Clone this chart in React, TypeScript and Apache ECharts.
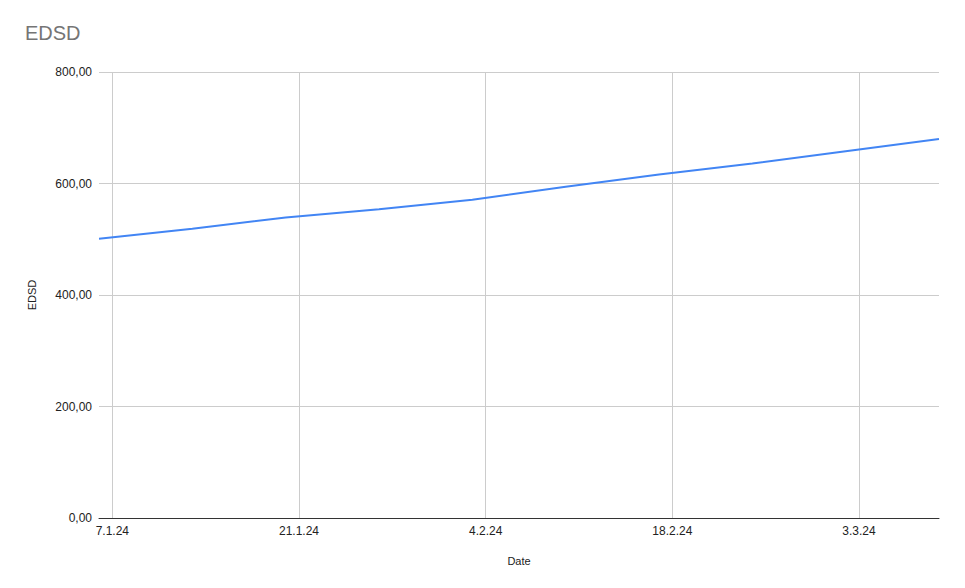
import React, { useEffect, useRef } from "react";
import * as echarts from "echarts";

const dates = [
  "2024-01-06",
  "2024-01-13",
  "2024-01-20",
  "2024-01-27",
  "2024-02-03",
  "2024-02-10",
  "2024-02-17",
  "2024-02-24",
  "2024-03-02",
  "2024-03-09",
];
const values = [501, 519, 539, 554, 571, 594, 616, 636, 658, 680];
const tickDates = ["2024-01-07", "2024-01-21", "2024-02-04", "2024-02-18", "2024-03-03"];
const yTicks = [0, 200, 400, 600, 800];

const FONT = 'Arial, "Liberation Sans", sans-serif';

function toTs(s: string): number {
  const [y, m, d] = s.split("-").map(Number);
  return new Date(y, m - 1, d).getTime();
}

function fmtDate(v: number): string {
  const d = new Date(v);
  return `${d.getDate()}.${d.getMonth() + 1}.${String(d.getFullYear()).slice(2)}`;
}

export default function App() {
  const ref = useRef<HTMLDivElement>(null);

  useEffect(() => {
    if (!ref.current) return;
    const chart = echarts.init(ref.current, null, { renderer: "svg" });
    const xs = dates.map(toTs);
    const ticks = tickDates.map(toTs);
    chart.setOption({
      animation: false,
      backgroundColor: "#ffffff",
      textStyle: { fontFamily: FONT },
      title: {
        text: "EDSD",
        left: 25,
        top: 23,
        padding: 0,
        textStyle: { fontFamily: FONT, fontSize: 20, fontWeight: "normal", color: "#757575" },
      },
      grid: { left: 99, right: 26, top: 72, bottom: 70, containLabel: false },
      xAxis: {
        type: "value",
        min: xs[0],
        max: xs[xs.length - 1],
        name: "Date",
        nameLocation: "middle",
        nameGap: 37,
        nameTextStyle: { fontFamily: FONT, fontSize: 11, color: "#222222" },
        axisLine: { show: true, lineStyle: { color: "#333333", width: 1 } },
        axisTick: { show: false, customValues: ticks },
        axisLabel: {
          customValues: ticks,
          formatter: (v: number) => fmtDate(v),
          fontFamily: FONT,
          fontSize: 12,
          color: "#222222",
          margin: 7,
          hideOverlap: false,
        },
        splitLine: { show: true, lineStyle: { color: "#cccccc", width: 1 } },
      },
      yAxis: {
        type: "value",
        min: yTicks[0],
        max: yTicks[yTicks.length - 1],
        interval: 200,
        name: "EDSD",
        nameLocation: "middle",
        nameRotate: 90,
        nameGap: 62,
        nameTextStyle: { fontFamily: FONT, fontSize: 11, color: "#222222" },
        axisLine: { show: false },
        axisTick: { show: false },
        axisLabel: {
          formatter: (v: number) => v.toFixed(2).replace(".", ","),
          fontFamily: FONT,
          fontSize: 12,
          color: "#222222",
          margin: 7,
        },
        splitLine: { show: true, lineStyle: { color: "#cccccc", width: 1 } },
      },
      series: [
        {
          type: "line",
          data: xs.map((x, i) => [x, values[i]]),
          showSymbol: false,
          symbol: "none",
          smooth: false,
          lineStyle: { color: "#4285F4", width: 2 },
          itemStyle: { color: "#4285F4" },
        },
      ],
    });
    return () => chart.dispose();
  }, []);

  return (
    <div
      ref={ref}
      style={{ position: "fixed", left: 0, top: 0, width: 965, height: 588, background: "#fff" }}
    />
  );
}
